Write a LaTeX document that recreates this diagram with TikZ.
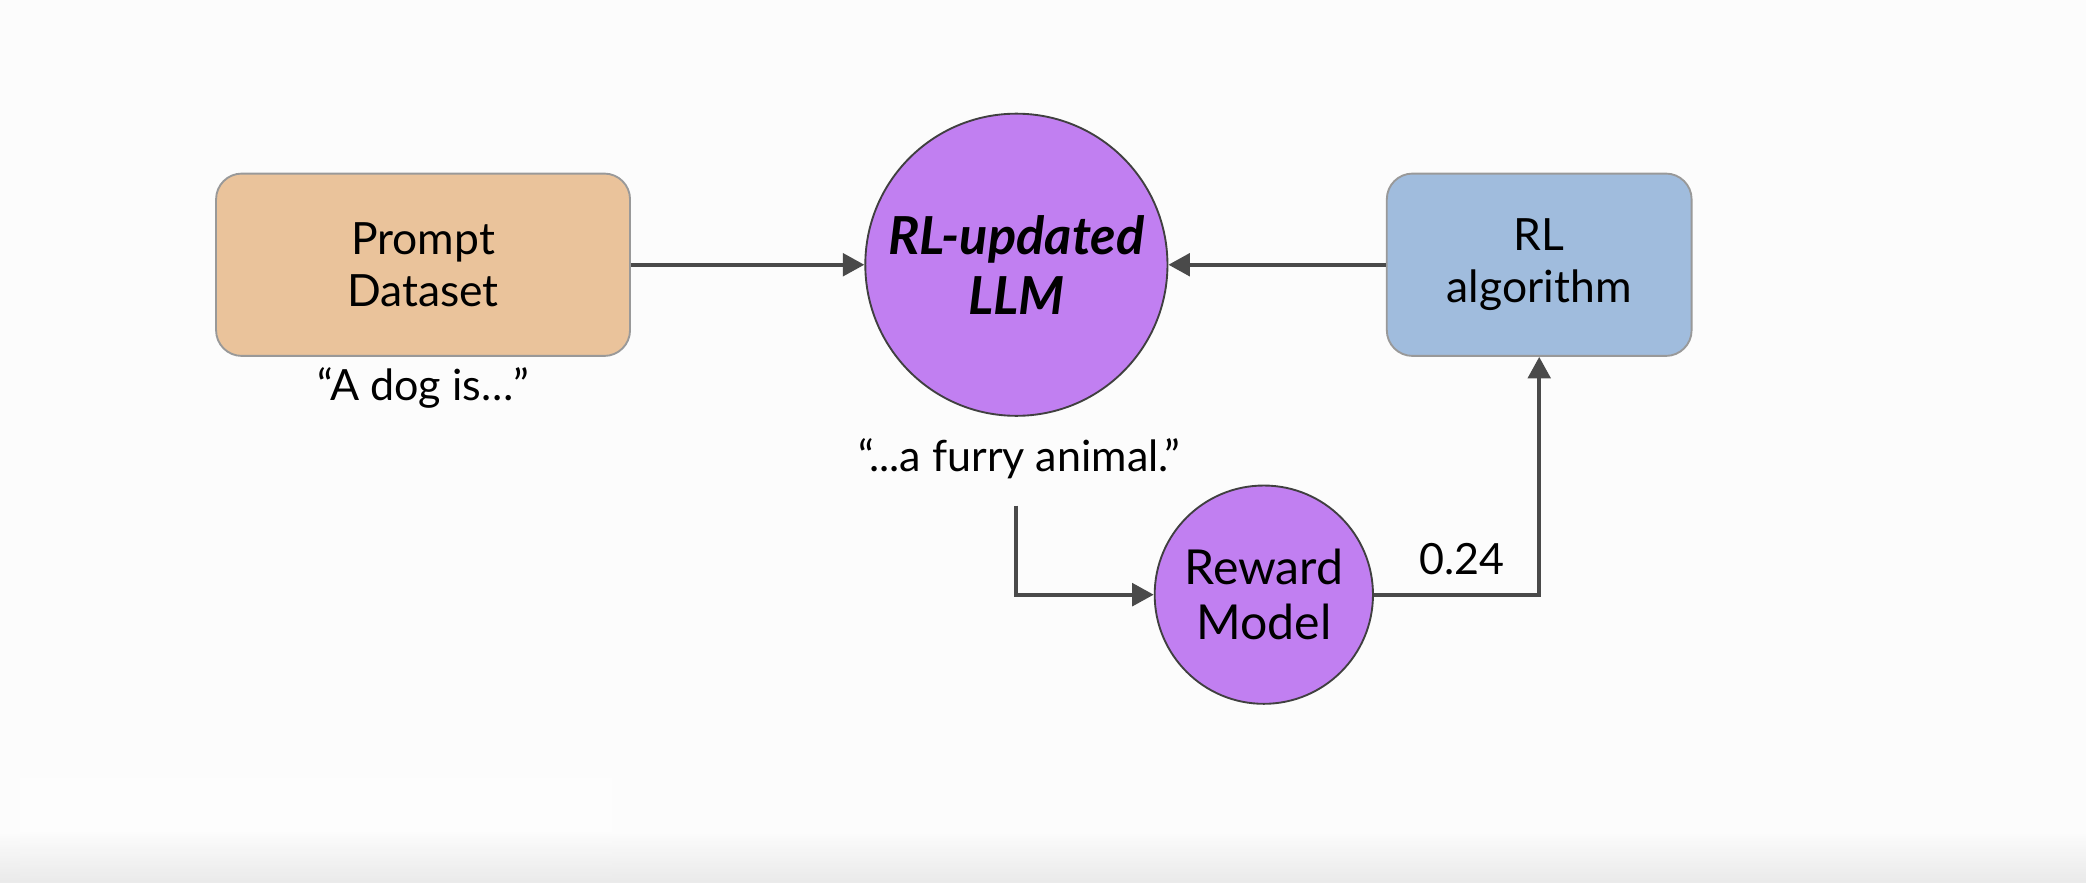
\documentclass[tikz,border=0pt]{standalone}
\usepackage{fontspec}
\setmainfont{Lato}
\usetikzlibrary{arrows.meta,positioning}
\definecolor{promptfill}{RGB}{234,195,155}
\definecolor{llmfill}{RGB}{193,127,241}
\definecolor{algofill}{RGB}{160,188,221}
\definecolor{arrowgray}{RGB}{74,74,74}
\begin{document}
\begin{tikzpicture}[x=0.01cm,y=-0.01cm,
    box/.style={draw=gray!80,line width=0.4pt,rounded corners=5.5pt,minimum width=3.11cm,minimum height=1.37cm,align=center,font=\fontsize{9.5}{11.2}\selectfont},
    bigcircle/.style={circle,draw=black!75,line width=0.4pt,fill=llmfill,minimum size=2.27cm,align=center,inner sep=0pt},
    lbl/.style={font=\fontsize{9.2}{11}\selectfont},
    flow/.style={draw=arrowgray,line width=0.85pt,-{Triangle[length=4.6pt,width=4.8pt]}}]
    \fill[black!1] (0,0) rectangle (1568,663);
    \fill[white,opacity=0.6] (15,585) rectangle (460,663);
    \shade[top color=black!1,bottom color=black!10,opacity=0.8] (0,625) rectangle (1568,663);
    \node[box,fill=promptfill] (prompt) at (318,199) {Prompt\\Dataset};
    \node[box,fill=algofill,minimum width=2.29cm] (algo) at (1157,199) {RL\\algorithm};
    \node[bigcircle,font=\fontsize{11.2}{12.8}\selectfont\bfseries\itshape] (llm) at (764,199) {RL-updated\\LLM};
    \node[bigcircle,minimum size=1.64cm,font=\fontsize{10.3}{11.8}\selectfont] (reward) at (950,447) {Reward\\Model};
    \node[lbl] (ask) at (318,292) {“A dog is…”};
    \node[lbl] (answer) at (766,345) {“...a furry animal.”};
    \node[lbl] (score) at (1099,420) {0.24};
    \coordinate (drop) at (764,380);
    \draw[flow] (prompt) -- (llm);
    \draw[flow] (algo) -- (llm);
    \draw[flow] (drop) |- (reward);
    \draw[flow] (reward) -| (algo);
\end{tikzpicture}
\end{document}
